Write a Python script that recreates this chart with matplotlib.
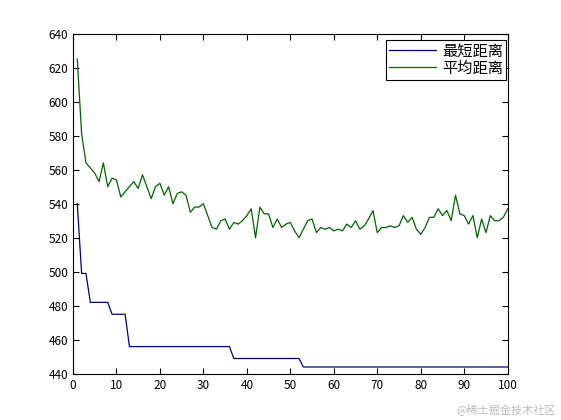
import numpy as np
import matplotlib.pyplot as plt

plt.rcParams['font.family'] = ['Noto Sans CJK SC', 'DejaVu Sans']

# generation index
gen = np.arange(1, 101)

# shortest distance per generation
best_dist = [540, 499, 499, 482, 482, 482, 482, 482, 475, 475,
             475, 475] + [456] * 24 + [449] * 16 + [444] * 48

# mean distance per generation
mean_dist = [625, 581, 564, 561, 558, 553, 564, 550, 555, 554,
             544, 547, 550, 553, 549, 557, 550, 543, 550, 552,
             545, 550, 540, 546, 547, 545, 535, 538, 538, 540,
             533, 526, 525, 530, 531, 525, 529, 528, 530, 533,
             537, 520, 538, 534, 534, 526, 531, 526, 528, 529,
             524, 520, 525, 530, 531, 523, 526, 525, 526, 524,
             525, 524, 528, 526, 530, 525, 527, 531, 536, 523,
             526, 526, 527, 526, 527, 533, 529, 532, 525, 522,
             526, 532, 532, 537, 533, 536, 530, 545, 534, 533,
             528, 533, 520, 531, 523, 533, 530, 530, 532, 537]

labels = ['最短距离', '平均距离']

fig = plt.figure(figsize=(5.61, 4.2), dpi=100)
ax = fig.add_axes([0.13, 0.11, 0.775, 0.81])
ax.plot(gen, best_dist, color='#00007a', lw=0.9, label=labels[0])
ax.plot(gen, mean_dist, color='#006400', lw=0.9, label=labels[1])

ax.set_xlim(0, 100)
ax.set_ylim(440, 640)
ax.set_xticks(np.arange(0, 101, 10))
ax.set_yticks(np.arange(440, 641, 20))
ax.tick_params(direction='in', top=True, right=True, labelsize=8.5, length=4)

leg = ax.legend(loc='upper right', fontsize=11, handlelength=3.1, handletextpad=0.4,
                fancybox=False, edgecolor='black', framealpha=1, borderpad=0.2,
                labelspacing=0.0, borderaxespad=0, bbox_to_anchor=(0.997, 0.982))
leg.get_frame().set_linewidth(0.8)

fig.text(0.99, 0.01, '@稀土掘金技术社区', ha='right', va='bottom', fontsize=8, color='#bbbbbb')

fig.savefig('out.png', dpi=100)
